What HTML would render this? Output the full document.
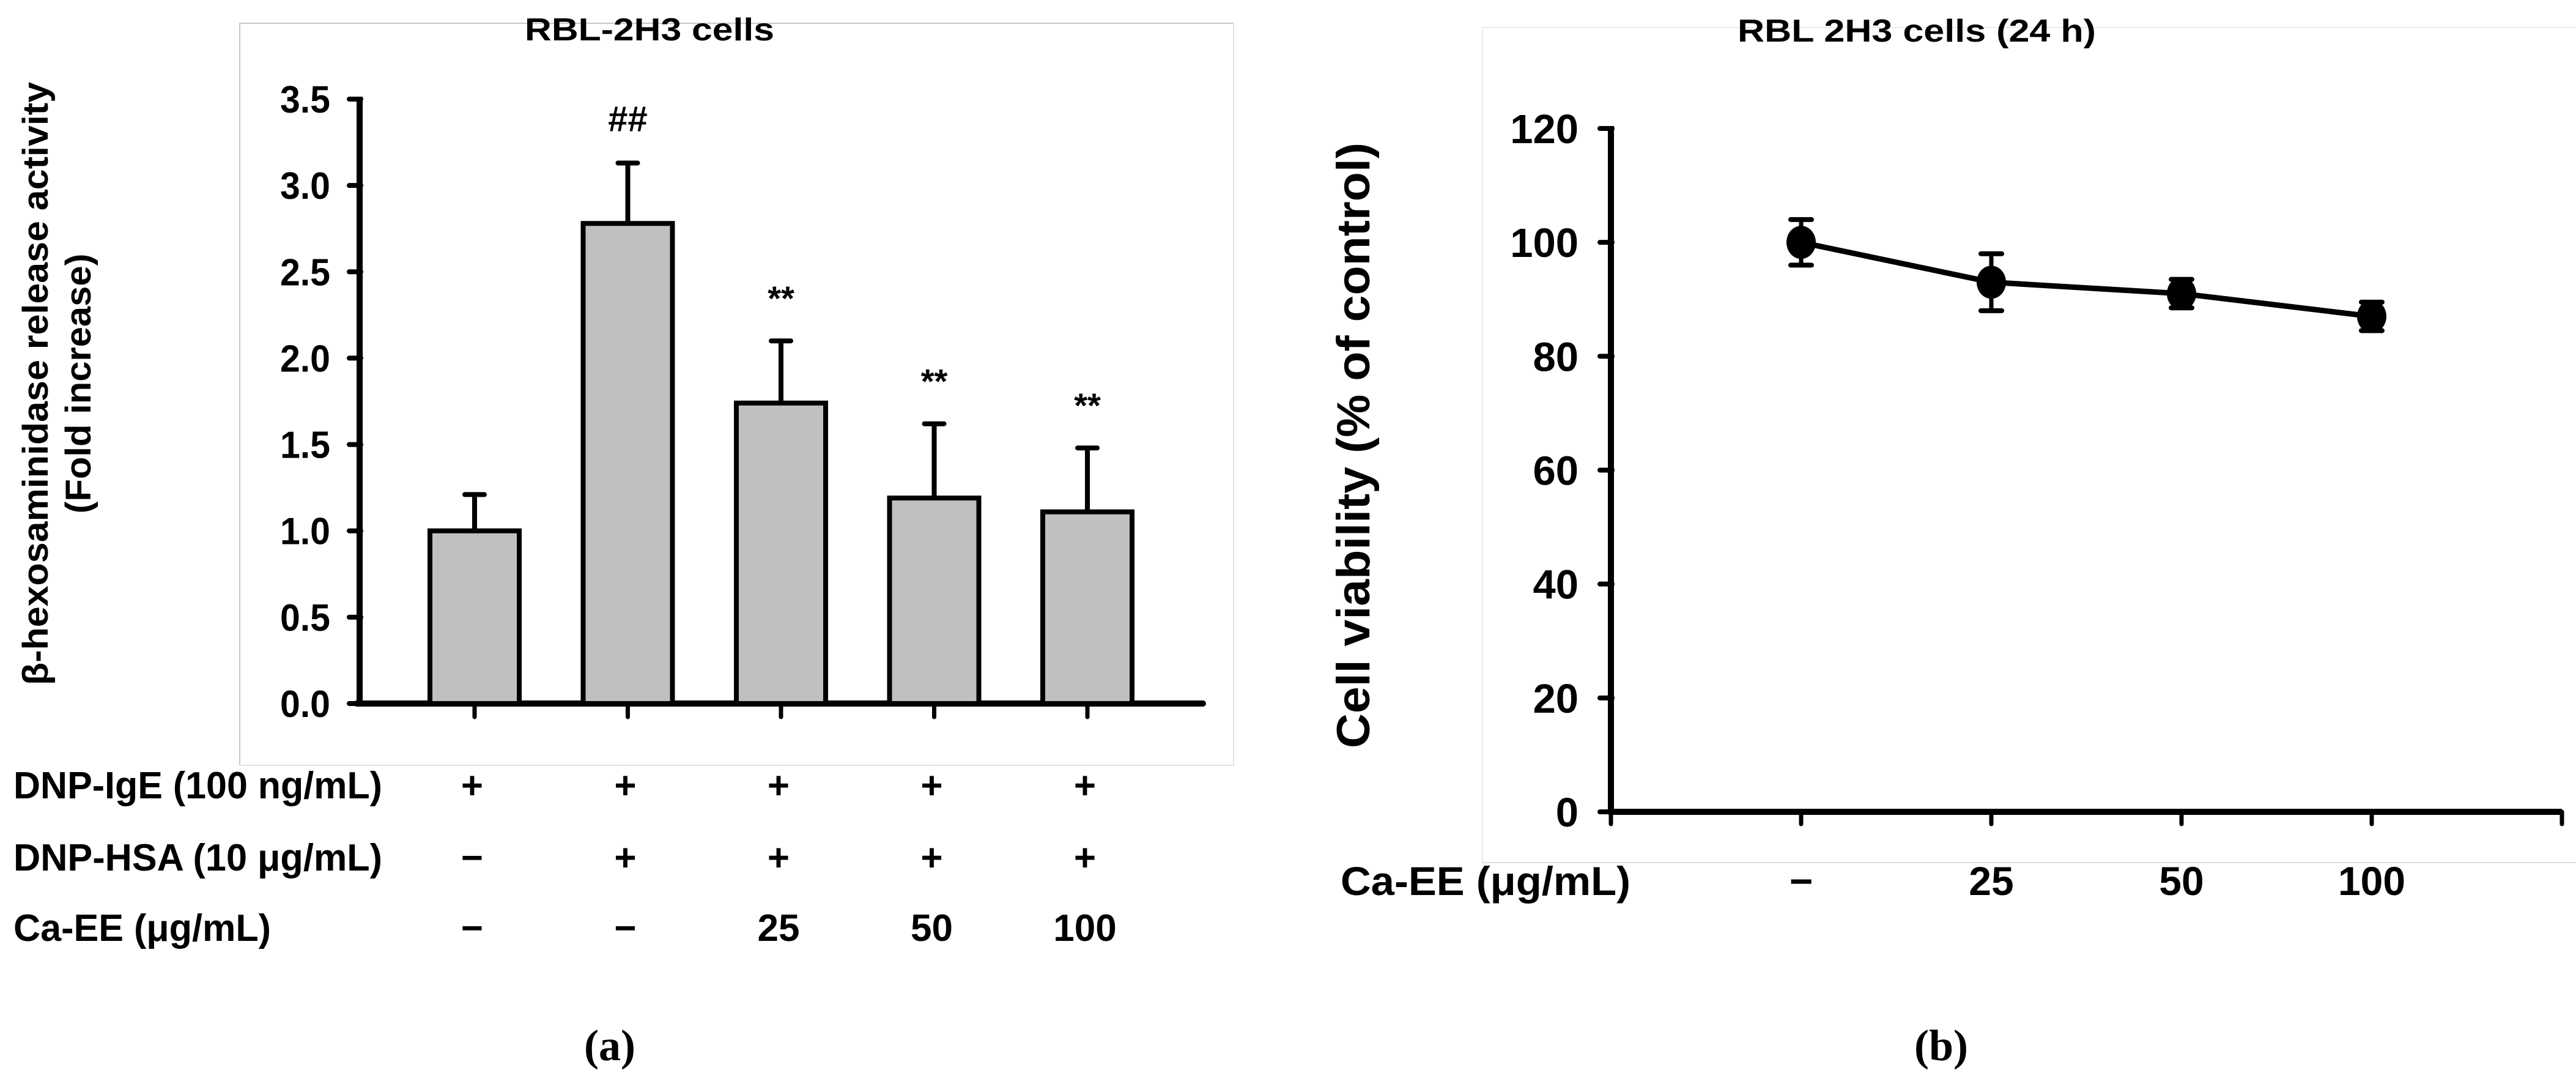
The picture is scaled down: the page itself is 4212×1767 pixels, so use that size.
<!DOCTYPE html>
<html><head><meta charset="utf-8"><style>
html,body{margin:0;padding:0;background:#fff}
svg{display:block}
text{font-family:"Liberation Sans",Arial,sans-serif;font-weight:bold;fill:#000}
.serif{font-family:"Liberation Serif",serif}
</style></head><body>
<svg id="fig" width="4212" height="1767" viewBox="0 0 4212 1767" xmlns="http://www.w3.org/2000/svg">
<g id="chartA">
  <path d="M392,1251 V38 H2017" fill="none" stroke="#c8c8c8" stroke-width="2"/>
  <path d="M2017,38 V1251 H392" fill="none" stroke="#e4e4e4" stroke-width="2"/>
  <text x="1062" y="66" font-size="52" text-anchor="middle" textLength="408" lengthAdjust="spacingAndGlyphs">RBL-2H3  cells</text>
  <g transform="translate(78,627) rotate(-90)">
    <text x="0" y="0" font-size="58" text-anchor="middle" textLength="986" lengthAdjust="spacingAndGlyphs">β-hexosaminidase  release  activity</text>
    <text x="0" y="70" font-size="58" text-anchor="middle" textLength="425" lengthAdjust="spacingAndGlyphs">(Fold increase)</text>
  </g>
  <g id="aAxes"></g>
  <g id="aBars"></g>
  <g id="aRows"></g>
  <text x="997" y="1733" font-size="72" text-anchor="middle" class="serif" font-weight="normal">(<tspan font-weight="bold">a</tspan>)</text>
</g>
<g id="chartB">
  <path d="M2424,1410 V45 H4212" fill="none" stroke="#ececec" stroke-width="2"/>
  <path d="M2424,1410 H4212" fill="none" stroke="#dcdcdc" stroke-width="2"/>
  <text x="3134" y="68" font-size="52" text-anchor="middle" textLength="586" lengthAdjust="spacingAndGlyphs">RBL 2H3 cells (24 h)</text>
  <text transform="translate(2239,728) rotate(-90)" x="0" y="0" font-size="76" text-anchor="middle" textLength="990" lengthAdjust="spacingAndGlyphs">Cell viability (% of control)</text>
  <g id="bAxes"></g>
  <g id="bSeries"></g>
  <text x="3174" y="1733" font-size="72" text-anchor="middle" class="serif" font-weight="normal">(<tspan font-weight="bold">b</tspan>)</text>
</g>
</svg>
<script>
// ---- Chart A data ----
const aCategories = ["Control", "DNP-HSA", "Ca-EE 25", "Ca-EE 50", "Ca-EE 100"];
const aValues = [1.0, 2.78, 1.74, 1.19, 1.11];
const aErrors = [0.21, 0.35, 0.36, 0.43, 0.37];
const aMarks = ["", "##", "**", "**", "**"];
const aTicks = [0, 0.5, 1.0, 1.5, 2.0, 2.5, 3.0, 3.5];
const aTickLabels = ["0.0", "0.5", "1.0", "1.5", "2.0", "2.5", "3.0", "3.5"];
const aRowLabels = ["DNP-IgE  (100  ng/mL)", "DNP-HSA  (10  μg/mL)", "Ca-EE  (μg/mL)"];
const aRowIgE = ["+", "+", "+", "+", "+"];
const aRowHSA = ["−", "+", "+", "+", "+"];
const aRowCa = ["−", "−", "25", "50", "100"];
// ---- Chart B data ----
const bCategories = ["−", "25", "50", "100"];
const bValues = [100, 93, 91, 87];
const bErrors = [4, 5, 2.5, 2.5];
const bTicks = [0, 20, 40, 60, 80, 100, 120];
const bTickLabels = ["0", "20", "40", "60", "80", "100", "120"];

const NS = "http://www.w3.org/2000/svg";
function mk(tag, attrs, parent) {
  const e = document.createElementNS(NS, tag);
  for (const k in attrs) e.setAttribute(k, attrs[k]);
  parent.appendChild(e);
  return e;
}
const ay = v => 1150 - v * (1150 - 162) / 3.5;
const ax = i => 776 + i * 250.5;
const by = v => 1327 - v * (1327 - 210) / 120;
const bx = i => 2634 + (i + 1) * 311;

// Chart A axes
const aAxes = document.getElementById("aAxes");
let yl = mk("line", {x1: 588, y1: ay(3.5) - 4, x2: 588, y2: ay(0) + 4, stroke: "#000", "stroke-width": 10}, aAxes);


let xl = mk("line", {x1: 583, y1: ay(0), x2: 1967, y2: ay(0), stroke: "#000", "stroke-width": 10, "stroke-linecap": "round"}, aAxes);


aTicks.forEach((t, i) => {
  const tk = mk("line", {x1: 571, y1: ay(t), x2: 590, y2: ay(t), stroke: "#000", "stroke-width": 8, "stroke-linecap": "round"}, aAxes);
  
  
  const lb = mk("text", {x: 540, y: ay(t) + 22, "font-size": 62, "text-anchor": "end", textLength: 82, lengthAdjust: "spacingAndGlyphs"}, aAxes);
  lb.textContent = aTickLabels[i];
  
  
});
aCategories.forEach((c, i) => {
  const tk = mk("line", {x1: ax(i), y1: ay(0), x2: ax(i), y2: ay(0) + 22, stroke: "#000", "stroke-width": 7, "stroke-linecap": "round"}, aAxes);
  
  
});
// Chart A bars
const aBars = document.getElementById("aBars");
aValues.forEach((v, i) => {
  const cx = ax(i), top = ay(v), et = ay(v + aErrors[i]);
  const el = mk("line", {x1: cx, y1: top, x2: cx, y2: et, stroke: "#000", "stroke-width": 8}, aBars);
  
  
  const cap = mk("line", {x1: cx - 16, y1: et, x2: cx + 16, y2: et, stroke: "#000", "stroke-width": 8, "stroke-linecap": "round"}, aBars);
  
  
  const r = mk("rect", {x: cx - 73, y: top, width: 146, height: ay(0) - top, fill: "#c0c0c0", stroke: "#000", "stroke-width": 8}, aBars);
  
  
  if (aMarks[i]) {
    const big = aMarks[i] === "##";
    const t = mk("text", {x: cx, y: et - (big ? 52 : 50), "font-size": big ? 58 : 56, "text-anchor": "middle", "font-weight": big ? "bold" : "normal"}, aBars);
    t.textContent = aMarks[i];
    
    
  }
});
// Chart A treatment rows
const aRows = document.getElementById("aRows");
const rowY = [1305, 1423, 1538];
const rowW = [603, 603, 421];
[aRowIgE, aRowHSA, aRowCa].forEach((row, r) => {
  const lb = mk("text", {x: 22, y: rowY[r], "font-size": 62, textLength: rowW[r], lengthAdjust: "spacingAndGlyphs"}, aRows);
  lb.textContent = aRowLabels[r];
  
  
  row.forEach((s, i) => {
    const t = mk("text", {x: ax(i) - 4, y: rowY[r], "font-size": 62, "text-anchor": "middle"}, aRows);
    t.textContent = s;
    
    
  });
});

// Chart B axes
const bAxes = document.getElementById("bAxes");
let byl = mk("line", {x1: 2634, y1: by(120) - 4, x2: 2634, y2: by(0) + 4, stroke: "#000", "stroke-width": 10}, bAxes);


let bxl = mk("line", {x1: 2630, y1: by(0), x2: 4189, y2: by(0), stroke: "#000", "stroke-width": 10}, bAxes);


bTicks.forEach((t, i) => {
  const tk = mk("line", {x1: 2616, y1: by(t), x2: 2636, y2: by(t), stroke: "#000", "stroke-width": 8, "stroke-linecap": "round"}, bAxes);
  
  
  const lb = mk("text", {x: 2581, y: by(t) + 24, "font-size": 67, "text-anchor": "end"}, bAxes);
  lb.textContent = bTickLabels[i];
  
  
});
for (let i = -1; i <= bCategories.length; i++) {
  const tk = mk("line", {x1: bx(i), y1: by(0), x2: bx(i), y2: by(0) + 20, stroke: "#000", "stroke-width": 7, "stroke-linecap": "round"}, bAxes);
  
  
}
const bxt = mk("text", {x: 2192, y: 1463, "font-size": 66, textLength: 474, lengthAdjust: "spacingAndGlyphs"}, bAxes);
bxt.textContent = "Ca-EE (μg/mL)";


bCategories.forEach((c, i) => {
  const t = mk("text", {x: bx(i), y: 1463, "font-size": 66, "text-anchor": "middle"}, bAxes);
  t.textContent = c;
  
  
});
// Chart B series
const bSeries = document.getElementById("bSeries");
const pts = bValues.map((v, i) => bx(i) + "," + by(v)).join(" ");
const pl = mk("polyline", {points: pts, fill: "none", stroke: "#000", "stroke-width": 9}, bSeries);


bValues.forEach((v, i) => {
  const cx = bx(i);
  const eb = mk("line", {x1: cx, y1: by(v + bErrors[i]), x2: cx, y2: by(v - bErrors[i]), stroke: "#000", "stroke-width": 7}, bSeries);
  
  
  [v + bErrors[i], v - bErrors[i]].forEach(e => {
    const cap = mk("line", {x1: cx - 17, y1: by(e), x2: cx + 17, y2: by(e), stroke: "#000", "stroke-width": 8, "stroke-linecap": "round"}, bSeries);
    
    
  });
  const c = mk("ellipse", {cx: cx, cy: by(v), rx: 24, ry: 27, fill: "#000"}, bSeries);
  
  
});
</script>
</body></html>
